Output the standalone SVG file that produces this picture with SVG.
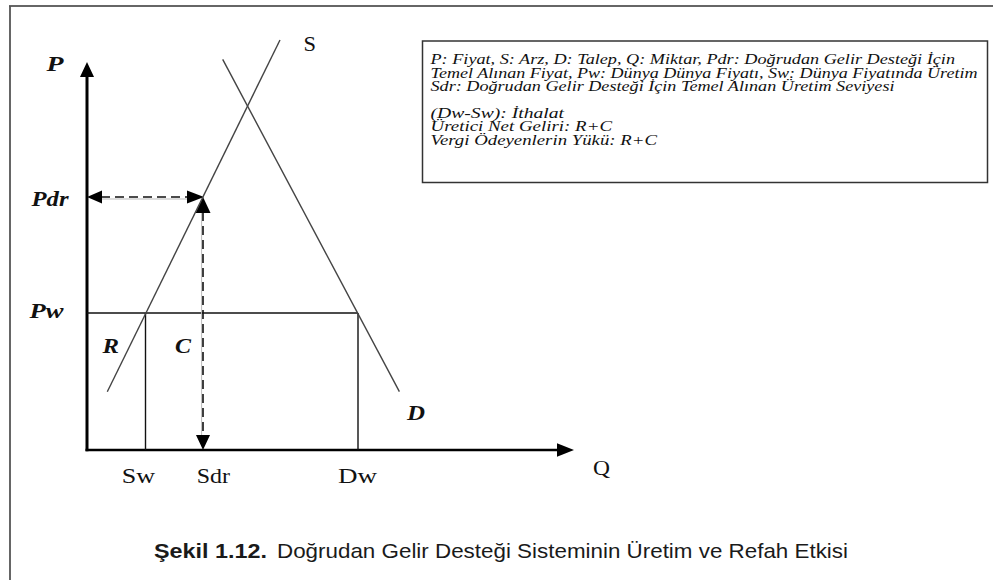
<svg xmlns="http://www.w3.org/2000/svg" width="993" height="580" viewBox="0 0 993 580">
<style>
.bi{font-family:"Liberation Serif","Times New Roman",serif;font-weight:bold;font-style:italic;font-size:21px;fill:#111}
.rg{font-family:"Liberation Serif","Times New Roman",serif;font-size:21px;fill:#111}
.lg{font-family:"Liberation Serif","Times New Roman",serif;font-style:italic;font-size:15px;fill:#111}
.cap{font-family:"Liberation Sans",Arial,sans-serif;font-size:21px;fill:#1a1a1a}
.curve{stroke:#444;stroke-width:1.4;fill:none}
.guide{stroke:#111;stroke-width:1.4;fill:none}
.dash{stroke:#111;stroke-width:1.6;stroke-dasharray:9 5;fill:none}
.shadow{stroke:#bbb;stroke-width:1;fill:none}
.ah{fill:#000}
</style>
<rect width="993" height="580" fill="#fff"/>
<g id="frame">
<line x1="9" y1="6" x2="993" y2="6" stroke="#333" stroke-width="1.7"/>
<line x1="10" y1="6" x2="10" y2="580" stroke="#555" stroke-width="1.8"/>
</g>
<g id="connectors">
<line x1="87" y1="76" x2="87" y2="451.2" stroke="#000" stroke-width="3"/>
<polygon class="ah" points="87,62 80,77 94,77"/>
<line x1="85.5" y1="450" x2="558" y2="450" stroke="#000" stroke-width="2.5"/>
<polygon class="ah" points="574,450 557,443.3 557,456.7"/>
<line class="guide" x1="87" y1="313" x2="358" y2="313"/>
<line class="guide" x1="145.5" y1="313" x2="145.5" y2="450"/>
<line class="guide" x1="358" y1="313" x2="358" y2="450"/>
<line class="shadow" x1="100" y1="199" x2="190" y2="199"/>
<line class="dash" x1="101" y1="197" x2="188" y2="197"/>
<polygon class="ah" points="87,197 102,190.5 102,203.5"/>
<polygon class="ah" points="204,197 187,190.5 187,203.5"/>
<line class="shadow" x1="201.6" y1="212" x2="201.6" y2="436"/>
<line class="dash" x1="203" y1="212" x2="203" y2="436"/>
<polygon class="ah" points="203,197 195.5,213 210.5,213"/>
<polygon class="ah" points="203,450 196,435 210,435"/>
</g>
<g id="supply">
<line class="curve" x1="107.3" y1="391.7" x2="280" y2="40"/>
<text class="rg" x="303.5" y="51" textLength="12.5" lengthAdjust="spacingAndGlyphs">S</text>
</g>
<g id="demand">
<line class="curve" x1="222.7" y1="59.3" x2="399.4" y2="391.7"/>
<text class="bi" x="407" y="420" textLength="18" lengthAdjust="spacingAndGlyphs">D</text>
</g>
<g id="axis-labels">
<text class="bi" x="46.5" y="71" textLength="17" lengthAdjust="spacingAndGlyphs">P</text>
<text class="bi" x="31.5" y="206" textLength="37" lengthAdjust="spacingAndGlyphs">Pdr</text>
<text class="bi" x="29.5" y="318" textLength="34" lengthAdjust="spacingAndGlyphs">Pw</text>
<text class="bi" x="102.5" y="353" textLength="16.5" lengthAdjust="spacingAndGlyphs">R</text>
<text class="bi" x="175" y="353" textLength="16" lengthAdjust="spacingAndGlyphs">C</text>
<text class="rg" x="121.7" y="483" textLength="33.3" lengthAdjust="spacingAndGlyphs">Sw</text>
<text class="rg" x="196.7" y="483" textLength="33.3" lengthAdjust="spacingAndGlyphs">Sdr</text>
<text class="rg" x="338" y="483" textLength="39" lengthAdjust="spacingAndGlyphs">Dw</text>
<text class="rg" x="593" y="475" textLength="17" lengthAdjust="spacingAndGlyphs">Q</text>
</g>
<g id="legend">
<rect x="422.5" y="41" width="565" height="141.5" fill="#fff" stroke="#333" stroke-width="1.5"/>
<text class="lg" x="430.5" y="64" textLength="524.5" lengthAdjust="spacingAndGlyphs">P: Fiyat, S: Arz, D: Talep, Q: Miktar, Pdr: Doğrudan Gelir Desteği İçin</text>
<text class="lg" x="430.5" y="77.5" textLength="547" lengthAdjust="spacingAndGlyphs">Temel Alınan Fiyat, Pw: Dünya Dünya Fiyatı, Sw: Dünya Fiyatında Üretim</text>
<text class="lg" x="430.5" y="91" textLength="464" lengthAdjust="spacingAndGlyphs">Sdr: Doğrudan Gelir Desteği İçin Temel Alınan Üretim Seviyesi</text>
<text class="lg" x="430.5" y="117.5" textLength="133.5" lengthAdjust="spacingAndGlyphs">(Dw-Sw): İthalat</text>
<text class="lg" x="430.5" y="131" textLength="181.5" lengthAdjust="spacingAndGlyphs">Üretici Net Geliri: R+C</text>
<text class="lg" x="430.5" y="144.5" textLength="226.5" lengthAdjust="spacingAndGlyphs">Vergi Ödeyenlerin Yükü: R+C</text>
</g>
<g id="caption">
<text class="cap" x="154" y="558" font-weight="bold" textLength="113" lengthAdjust="spacingAndGlyphs">Şekil 1.12.</text>
<text class="cap" x="277" y="558" textLength="571" lengthAdjust="spacingAndGlyphs">Doğrudan Gelir Desteği Sisteminin Üretim ve Refah Etkisi</text>
</g>
</svg>
